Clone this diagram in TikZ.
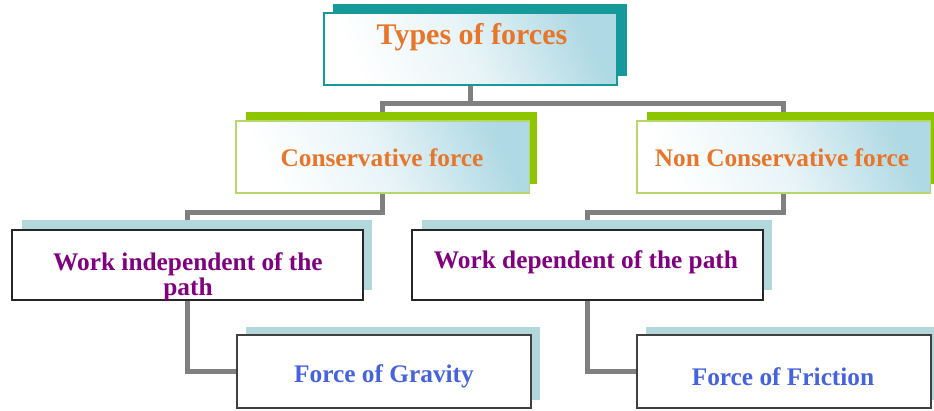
\documentclass[tikz,border=0pt]{standalone}
\usepackage{fontspec}
\setmainfont{Liberation Serif}
\usetikzlibrary{backgrounds}
\definecolor{torange}{HTML}{E8762A}
\definecolor{tpurple}{HTML}{800080}
\definecolor{tblue}{HTML}{4563DF}
\definecolor{tealS}{HTML}{16999A}
\definecolor{greenS}{HTML}{8DC600}
\definecolor{greenB}{HTML}{B6D86A}
\definecolor{lblueS}{HTML}{B2D8DC}
\definecolor{gblue}{HTML}{AFD9E4}
\definecolor{cgray}{HTML}{808080}
\begin{document}
\begin{tikzpicture}[x=0.75pt,y=-0.75pt,
  box/.style={inner sep=0pt, outer sep=0pt, anchor=north west},
  grad/.style={top color=gblue, bottom color=white, middle color=gblue!30!white, shading angle=-65},
  topbox/.style={box, grad, draw=tealS, line width=1.1pt, minimum width=219.75pt, minimum height=54pt},
  greenbox/.style={box, grad, draw=greenB, line width=0.9pt, minimum width=220pt, minimum height=54pt},
  workbox/.style={box, fill=white, draw=black!85, line width=1.2pt, minimum width=263.25pt, minimum height=52.5pt},
  forcebox/.style={box, fill=white, draw=black!75, line width=1.2pt, minimum width=220.5pt, minimum height=54.75pt},
  conn/.style={draw=cgray, line width=3.75pt},
  ttext/.style={anchor=base, inner sep=0pt, font=\fontsize{22.5}{26}\selectfont\bfseries, text=torange},
  otext/.style={anchor=base, inner sep=0pt, font=\fontsize{19}{23}\selectfont\bfseries, text=torange},
  ptext/.style={inner sep=0pt, font=\fontsize{19}{18.75}\selectfont\bfseries, text=tpurple},
  btext/.style={anchor=base, inner sep=0pt, font=\fontsize{19}{23}\selectfont\bfseries, text=tblue}]
\useasboundingbox (0,0) rectangle (934,410);

% boxes
\node[topbox] (top) at (324,13) {};
\node[greenbox] (cons) at (236,121) {};
\node[greenbox] (ncons) at (637,121) {};
\node[workbox] (windep) at (12,230) {};
\node[workbox] (wdep) at (412,230) {};
\node[forcebox] (grav) at (237,335) {};
\node[forcebox] (fric) at (637,335) {};

\begin{scope}[on background layer]
  \fill[white] (0,0) rectangle (934,410);
  % connectors
  \draw[conn] (top.south) -- ++(0,18) coordinate (j1);
  \draw[conn] (j1) -| (cons.north);
  \draw[conn] (j1) -| (ncons.north);
  \draw[conn] (cons.south) -- ++(0,19) -| (windep.north);
  \draw[conn] (ncons.south) -- ++(0,19) -| (wdep.north);
  \draw[conn] (windep.south) |- (grav.west);
  \draw[conn] (wdep.south) |- (fric.west);
  % shadows
  \fill[tealS] ([xshift=6.75pt,yshift=6.75pt]top.south west) rectangle ([xshift=7.5pt,yshift=6.75pt]top.north east);
  \fill[greenS] ([xshift=7.5pt,yshift=6.75pt]cons.south west) rectangle ([xshift=6pt,yshift=6.75pt]cons.north east);
  \fill[greenS] ([xshift=7.5pt,yshift=6.75pt]ncons.south west) rectangle ([xshift=7.5pt,yshift=6.75pt]ncons.north east);
  \fill[lblueS] ([xshift=7.5pt,yshift=7.5pt]windep.south west) rectangle ([xshift=6.75pt,yshift=7.5pt]windep.north east);
  \fill[lblueS] ([xshift=7.5pt,yshift=7.5pt]wdep.south west) rectangle ([xshift=6.75pt,yshift=7.5pt]wdep.north east);
  \fill[lblueS] ([xshift=6.75pt,yshift=6pt]grav.south west) rectangle ([xshift=6.75pt,yshift=6pt]grav.north east);
  \fill[lblueS] ([xshift=6.75pt,yshift=6pt]fric.south west) rectangle ([xshift=6.75pt,yshift=6pt]fric.north east);
\end{scope}

% texts
\node[ttext] (ttop) at (472,45) {Types of forces};
\node[otext] (tcons) at (382,166) {Conservative force};
\node[otext] (tncons) at (782,166) {Non Conservative force};
\begin{scope}
  \clip (windep.north west) rectangle (windep.south east);
  \node[ptext, anchor=north, align=center] (twindep) at (188,252) {Work independent of the\\path};
\end{scope}
\node[ptext, anchor=base] (twdep) at (586,268) {Work dependent of the path};
\node[btext] (tgrav) at (384,382) {Force of Gravity};
\node[btext] (tfric) at (783,385) {Force of Friction};
\end{tikzpicture}
\end{document}
